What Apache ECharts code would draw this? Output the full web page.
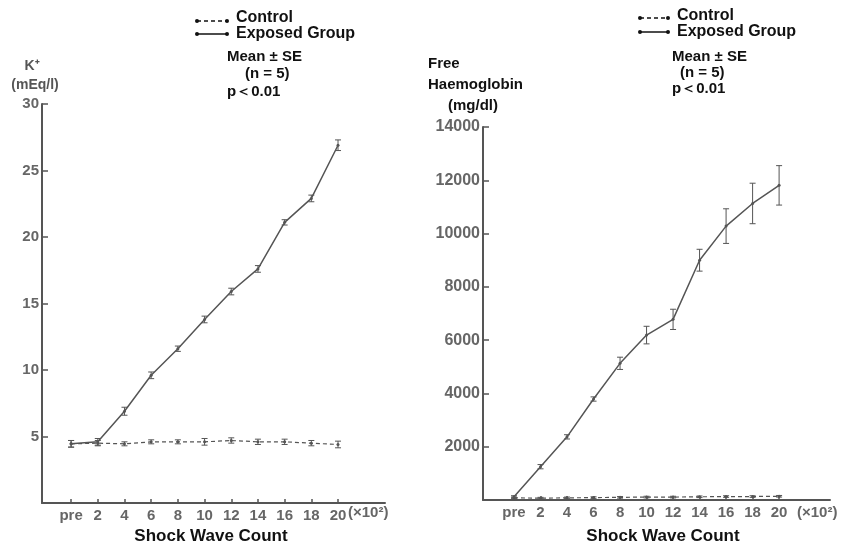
<!DOCTYPE html>
<html>
<head>
<meta charset="utf-8">
<script src="https://cdn.jsdelivr.net/npm/echarts@6/dist/echarts.min.js"></script>
<style>
html, body { margin: 0; padding: 0; background: #fff; }
#chart { width: 846px; height: 547px; }
</style>
</head>
<body>
<div id="chart"></div>
<script>
// shock wave count (x10^2)
var counts = ['pre', '2', '4', '6', '8', '10', '12', '14', '16', '18', '20'];

// K+ (mEq/l)
var kExposed = [4.45, 4.6, 6.9, 9.6, 11.6, 13.8, 15.9, 17.6, 21.1, 22.9, 26.9];
var kExposedSe = [0.25, 0.25, 0.3, 0.25, 0.2, 0.25, 0.25, 0.25, 0.2, 0.25, 0.4];
var kControl = [4.45, 4.5, 4.45, 4.6, 4.6, 4.6, 4.7, 4.6, 4.6, 4.5, 4.4];
var kControlSe = [0.25, 0.2, 0.15, 0.15, 0.15, 0.25, 0.2, 0.2, 0.2, 0.2, 0.25];
var kTicks = [5, 10, 15, 20, 25, 30];

// free haemoglobin (mg/dl)
var hbExposed = [120, 1250, 2370, 3790, 5130, 6190, 6780, 9000, 10280, 11130, 11810];
var hbExposedSe = [40, 80, 80, 80, 230, 330, 380, 410, 650, 760, 740];
var hbControl = [80, 70, 80, 90, 100, 110, 110, 120, 130, 130, 140];
var hbControlSe = [30, 30, 30, 30, 30, 30, 30, 30, 30, 30, 30];
var hbTicks = [2000, 4000, 6000, 8000, 10000, 12000, 14000];

var idx = counts.map(function (c, i) { return i; });
var FONT = '"Liberation Sans", Arial, sans-serif';
var INK = '#555';

function pairs(vals) {
  return vals.map(function (v, i) { return [i, v]; });
}

// error bars drawn via the axes
function errorBars(vals, ses, ai) {
  return {
    type: 'custom',
    xAxisIndex: ai,
    yAxisIndex: ai,
    z: 4,
    data: vals.map(function (v, i) { return [i, v - ses[i], v + ses[i]]; }),
    encode: { x: 0, y: [1, 2] },
    renderItem: function (params, api) {
      var lo = api.coord([api.value(0), api.value(1)]);
      var hi = api.coord([api.value(0), api.value(2)]);
      var w = 3;
      var st = { stroke: INK, lineWidth: 1 };
      return {
        type: 'group',
        children: [
          { type: 'line', shape: { x1: lo[0], y1: lo[1], x2: hi[0], y2: hi[1] }, style: st },
          { type: 'line', shape: { x1: lo[0] - w, y1: lo[1], x2: lo[0] + w, y2: lo[1] }, style: st },
          { type: 'line', shape: { x1: hi[0] - w, y1: hi[1], x2: hi[0] + w, y2: hi[1] }, style: st }
        ]
      };
    }
  };
}

function line(vals, ai, dashed) {
  return {
    type: 'line',
    xAxisIndex: ai,
    yAxisIndex: ai,
    data: pairs(vals),
    symbol: 'circle',
    symbolSize: 3,
    itemStyle: { color: INK },
    lineStyle: { color: INK, width: dashed ? 1.2 : 1.5, type: dashed ? [4, 3] : 'solid' },
    animation: false,
    z: 3
  };
}

function xAxis(ai, min, max) {
  return {
    type: 'value', gridIndex: ai, min: min, max: max,
    axisLine: { show: true, onZero: false, lineStyle: { color: INK, width: 2 } },
    axisTick: { show: true, inside: true, length: 4, customValues: idx, lineStyle: { color: INK, width: 1.5 } },
    axisLabel: {
      customValues: idx, margin: 5,
      formatter: function (v) { return counts[Math.round(v)]; },
      color: '#666', fontSize: 15, fontWeight: 'bold', fontFamily: FONT
    },
    splitLine: { show: false }
  };
}

function yAxis(ai, max, ticks, size) {
  return {
    type: 'value', gridIndex: ai, min: 0, max: max,
    axisLine: { show: true, onZero: false, lineStyle: { color: INK, width: 2 } },
    axisTick: { show: true, inside: true, length: 6, customValues: ticks, lineStyle: { color: INK, width: 1.5 } },
    axisLabel: {
      customValues: ticks, margin: 3,
      formatter: function (v) { return String(v); },
      color: '#666', fontSize: size, fontWeight: 'bold', fontFamily: FONT
    },
    splitLine: { show: false }
  };
}

function txt(x, y, s, opt) {
  opt = opt || {};
  return {
    type: 'text', x: x, y: y, z: 10,
    style: {
      text: s, fill: opt.fill || '#111', font: (opt.weight || 'bold') + ' ' + (opt.size || 16) + 'px ' + FONT,
      textAlign: opt.align || 'left', textVerticalAlign: 'middle'
    }
  };
}

function legendMark(x1, x2, y, dashed) {
  return {
    type: 'group', z: 10,
    children: [
      { type: 'line', shape: { x1: x1, y1: y, x2: x2, y2: y }, style: { stroke: '#111', lineWidth: 1.5, lineDash: dashed ? [4, 3] : null } },
      { type: 'circle', shape: { cx: x1, cy: y, r: 2 }, style: { fill: '#111' } },
      { type: 'circle', shape: { cx: x2, cy: y, r: 2 }, style: { fill: '#111' } }
    ]
  };
}

var chart = echarts.init(document.getElementById('chart'));
chart.setOption({
  backgroundColor: '#fff',
  animation: false,
  grid: [
    { left: 42, top: 104, width: 343, height: 399 },
    { left: 483, top: 127, width: 347, height: 373 }
  ],
  xAxis: [xAxis(0, -1.09, 11.76), xAxis(1, -1.17, 11.92)],
  yAxis: [yAxis(0, 30, kTicks, 15), yAxis(1, 14000, hbTicks, 16)],
  series: [
    line(kControl, 0, true),
    line(kExposed, 0, false),
    errorBars(kControl, kControlSe, 0),
    errorBars(kExposed, kExposedSe, 0),
    line(hbControl, 1, true),
    line(hbExposed, 1, false),
    errorBars(hbControl, hbControlSe, 1),
    errorBars(hbExposed, hbExposedSe, 1)
  ],
  graphic: [
    // left panel
    legendMark(197, 227, 21, true),
    legendMark(197, 227, 34, false),
    txt(236, 18, 'Control'),
    txt(236, 34, 'Exposed Group'),
    txt(227, 57, 'Mean ± SE', { size: 15 }),
    txt(245, 74, '(n = 5)', { size: 15 }),
    txt(227, 92, 'p＜0.01', { size: 15 }),
    txt(32, 66, 'K⁺', { fill: '#555', size: 14, align: 'center' }),
    txt(35, 85, '(mEq/l)', { fill: '#555', size: 14, align: 'center' }),
    txt(348, 513, '(×10²)', { fill: '#666', size: 15 }),
    txt(211, 536, 'Shock Wave Count', { size: 17, align: 'center' }),
    // right panel
    legendMark(640, 668, 18, true),
    legendMark(640, 668, 32, false),
    txt(677, 16, 'Control'),
    txt(677, 32, 'Exposed Group'),
    txt(672, 57, 'Mean ± SE', { size: 15 }),
    txt(680, 73, '(n = 5)', { size: 15 }),
    txt(672, 89, 'p＜0.01', { size: 15 }),
    txt(428, 64, 'Free', { size: 15 }),
    txt(428, 85, 'Haemoglobin', { size: 15 }),
    txt(448, 106, '(mg/dl)', { size: 15 }),
    txt(797, 513, '(×10²)', { fill: '#666', size: 15 }),
    txt(663, 536, 'Shock Wave Count', { size: 17, align: 'center' })
  ]
});
</script>
</body>
</html>
